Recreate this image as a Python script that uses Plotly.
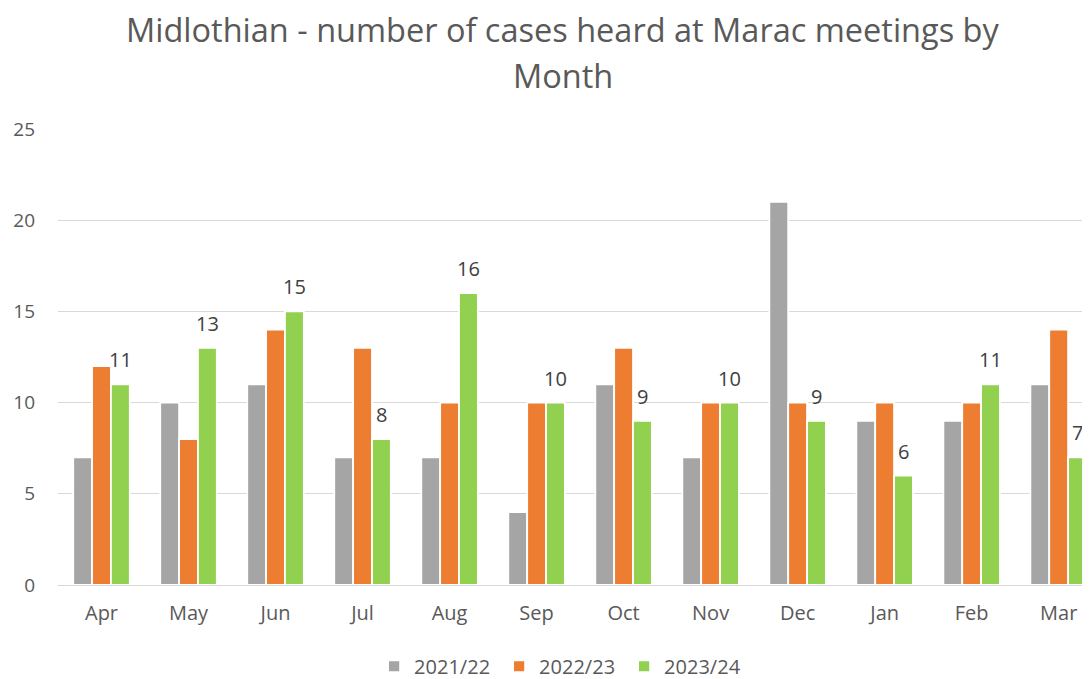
import plotly.graph_objects as go

months = ["Apr", "May", "Jun", "Jul", "Aug", "Sep", "Oct", "Nov", "Dec", "Jan", "Feb", "Mar"]
s2122 = [7, 10, 11, 7, 7, 4, 11, 7, 21, 9, 9, 11]
s2223 = [12, 8, 14, 13, 10, 10, 13, 10, 10, 10, 10, 14]
s2324 = [11, 13, 15, 8, 16, 10, 9, 10, 9, 6, 11, 7]
series_names = ["2021/22", "2022/23", "2023/24"]
colors = ["#A5A5A5", "#ED7D31", "#92D050"]
yticks = [0, 5, 10, 15, 20, 25]
title_lines = ["Midlothian - number of cases heard at Marac meetings by", "Month"]

FONT = "Open Sans, sans-serif"
BARGAP = 0.35

fig = go.Figure()
for name, vals, col in zip(series_names, [s2122, s2223, s2324], colors):
    fig.add_trace(go.Bar(
        x=months, y=vals, name=name,
        marker=dict(color=col, line=dict(color="white", width=1.8)),
        cliponaxis=False,
    ))

W, H = 1082, 671
L, R, T, B = 50, 0, 121, 94
cat_px = (W - L - R) / 11.86
bar_px = cat_px * (1 - BARGAP) / 3
# data labels for the 2023/24 series (above the third bar in each group)
for m, v in zip(months, s2324):
    fig.add_annotation(
        x=m, y=v, xref="x", yref="y", text=str(v), showarrow=False,
        xanchor="center", yanchor="bottom", xshift=bar_px, yshift=9,
        font=dict(size=20, color="#404040", family=FONT),
    )

# two-line chart title
for line, ypos in zip(title_lines, [1.219, 1.118]):
    fig.add_annotation(
        x=0.4893, y=ypos, xref="paper", yref="paper", text=line, showarrow=False,
        xanchor="center", yanchor="middle",
        font=dict(size=32.5, color="#595959", family=FONT),
    )

fig.update_layout(
    width=W, height=H,
    paper_bgcolor="white", plot_bgcolor="white",
    barmode="group", bargap=BARGAP, bargroupgap=0,
    margin=dict(l=L, r=R, t=T, b=B, autoexpand=False),
    font=dict(family=FONT, color="#595959"),
    legend=dict(
        orientation="h", x=0.488, xanchor="center", y=-0.1354, yanchor="top",
        font=dict(size=20, color="#595959"), itemwidth=30,
        entrywidth=80, entrywidthmode="pixels",
        traceorder="normal",
    ),
    showlegend=True,
)
fig.update_xaxes(
    range=[-0.5, 11.36], showgrid=False, showline=False, ticks="",
    tickfont=dict(size=20, color="#595959"), ticklabelstandoff=14,
)
fig.update_yaxes(
    range=[0, 25], tickvals=yticks, showgrid=True, gridcolor="#D9D9D9", gridwidth=1,
    zeroline=True, zerolinecolor="#D9D9D9", zerolinewidth=1, showline=False,
    tickfont=dict(size=19, color="#595959"), ticklabelstandoff=22,
)

fig.write_html("out.html")
